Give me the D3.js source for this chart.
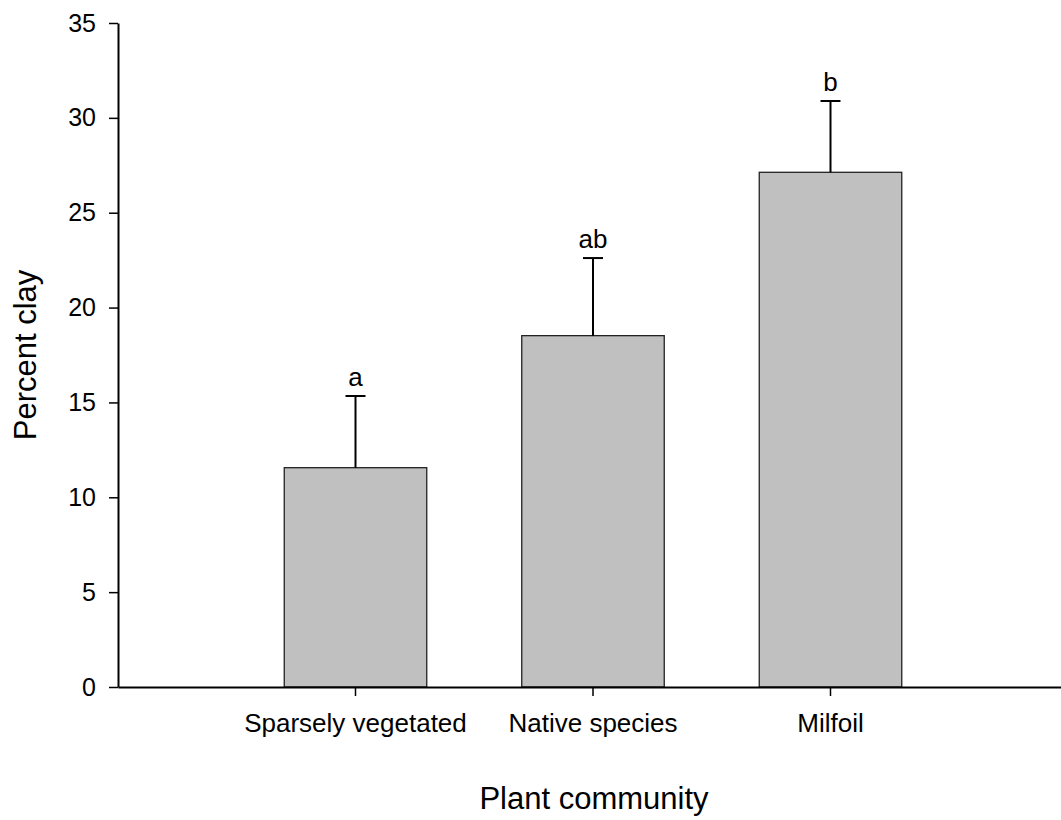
<!DOCTYPE html>
<html>
<head>
<meta charset="utf-8">
<script src="https://d3js.org/d3.v7.min.js"></script>
<style>
  body { margin: 0; background: #fff; }
  svg { display: block; font-family: "Liberation Sans", Arial, sans-serif; }
</style>
</head>
<body>
<svg id="drawing_region"></svg>
<script>
const categories = ["Sparsely vegetated", "Native species", "Milfoil"];
const means = [11.56, 18.52, 27.13];
const errors = [3.78, 4.09, 3.76];
const letters = ["a", "ab", "b"];
const yTicks = [0, 5, 10, 15, 20, 25, 30, 35];

const data = categories.map((c, i) => ({ cat: c, mean: means[i], err: errors[i], letter: letters[i] }));

const width = 1061, height = 820;
const svg = d3.select("#drawing_region")
    .attr("width", width)
    .attr("height", height);

const xscale = d3.scaleBand()
    .domain(categories)
    .range([118, 1068])
    .paddingInner(0.4)
    .paddingOuter(0.7);

const yscale = d3.scaleLinear()
    .domain([0, 35])
    .range([687, 23]);

// bars
svg.append("g").selectAll("rect")
    .data(data)
    .enter()
    .append("rect")
    .attr("x", d => xscale(d.cat))
    .attr("y", d => yscale(d.mean))
    .attr("width", xscale.bandwidth())
    .attr("height", d => yscale(0) - yscale(d.mean))
    .attr("fill", "#c0c0c0")
    .attr("stroke", "#222")
    .attr("stroke-width", 1.3);

// error bars (upper only)
const cx = d => xscale(d.cat) + xscale.bandwidth() / 2;
const eb = svg.append("g").attr("stroke", "#000").attr("stroke-width", 2);
eb.selectAll("line.v")
    .data(data)
    .enter()
    .append("line")
    .attr("class", "v")
    .attr("x1", cx).attr("x2", cx)
    .attr("y1", d => yscale(d.mean))
    .attr("y2", d => yscale(d.mean + d.err));
eb.selectAll("line.cap")
    .data(data)
    .enter()
    .append("line")
    .attr("class", "cap")
    .attr("x1", d => cx(d) - 10).attr("x2", d => cx(d) + 10)
    .attr("y1", d => yscale(d.mean + d.err))
    .attr("y2", d => yscale(d.mean + d.err));

// significance letters
svg.append("g").selectAll("text")
    .data(data)
    .enter()
    .append("text")
    .attr("x", cx)
    .attr("y", d => yscale(d.mean + d.err) - 10)
    .attr("text-anchor", "middle")
    .style("font-size", "26px")
    .text(d => d.letter);

// axes
const xaxis_group = svg.append("g")
    .attr("transform", `translate(0, ${yscale(0)})`)
    .call(d3.axisBottom(xscale).tickSize(9).tickSizeOuter(0));
xaxis_group.select(".domain").attr("stroke-width", 2);
xaxis_group.selectAll(".tick line").attr("stroke-width", 1.5);
xaxis_group.selectAll(".tick text")
    .attr("y", 45)
    .attr("dy", null)
    .attr("fill", "#000")
    .style("font-size", "26px");

const yaxis_group = svg.append("g")
    .attr("transform", `translate(118, 0)`)
    .call(d3.axisLeft(yscale).tickValues(yTicks).tickSize(9).tickPadding(13).tickSizeOuter(0));
yaxis_group.select(".domain").attr("stroke-width", 2);
yaxis_group.selectAll(".tick line").attr("stroke-width", 1.5);
yaxis_group.selectAll(".tick text")
    .attr("fill", "#000")
    .style("font-size", "25px");

// axis titles
svg.append("text")
    .attr("x", 594)
    .attr("y", 809)
    .attr("text-anchor", "middle")
    .style("font-size", "31px")
    .text("Plant community");

svg.append("text")
    .attr("transform", "translate(36, 355) rotate(-90)")
    .attr("text-anchor", "middle")
    .style("font-size", "31px")
    .text("Percent clay");
</script>
</body>
</html>
